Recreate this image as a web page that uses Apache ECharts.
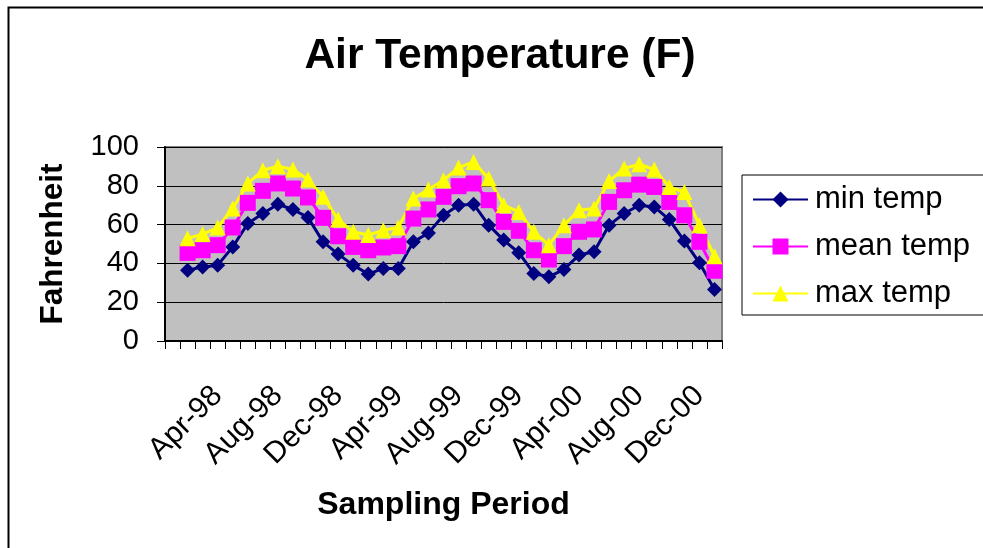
<!DOCTYPE html>
<html>
<head>
<meta charset="utf-8">
<script src="https://cdn.jsdelivr.net/npm/echarts@6/dist/echarts.min.js"></script>
<style>
html,body{margin:0;padding:0;background:#fff;}
#chart{width:983px;height:548px;}
</style>
</head>
<body>
<div id="chart"></div>
<script>
var categories = ["Jan-98","Feb-98","Mar-98","Apr-98","May-98","Jun-98","Jul-98","Aug-98","Sep-98","Oct-98","Nov-98","Dec-98",
"Jan-99","Feb-99","Mar-99","Apr-99","May-99","Jun-99","Jul-99","Aug-99","Sep-99","Oct-99","Nov-99","Dec-99",
"Jan-00","Feb-00","Mar-00","Apr-00","May-00","Jun-00","Jul-00","Aug-00","Sep-00","Oct-00","Nov-00","Dec-00","Jan-01"];
var minTemp = [null, 36.5, 38.2, 39.1, 48.5, 60.6, 65.7, 70.5, 67.8, 63.7, 51.1, 44.8, 39.1, 34.5, 37.4, 37.4, 51.1, 55.7, 64.8, 70.0, 70.5, 59.7, 52.0, 45.5, 34.8, 33.1, 36.9, 44.3, 46.0, 59.7, 65.7, 70.0, 69.1, 62.6, 51.5, 40.3, 26.6];
var meanTemp = [null, 45.4, 46.8, 49.4, 58.5, 71.2, 77.4, 81.2, 78.6, 74.0, 63.5, 54.0, 48.5, 46.8, 48.2, 48.9, 63.1, 67.8, 74.3, 79.8, 81.2, 72.6, 61.4, 56.8, 46.8, 42.0, 48.9, 56.3, 57.5, 71.7, 77.7, 80.6, 79.4, 71.7, 64.8, 51.1, 36.2];
var maxTemp = [null, 52.9, 55.1, 58.5, 68.3, 81.2, 88.0, 90.1, 88.4, 83.2, 74.3, 62.6, 56.3, 54.6, 57.1, 58.5, 73.4, 78.1, 82.9, 89.4, 92.3, 83.7, 70.0, 66.5, 56.3, 49.4, 59.7, 67.4, 68.3, 82.5, 88.9, 91.1, 88.4, 79.4, 76.8, 59.7, 43.7];
var yTicks = [0, 20, 40, 60, 80, 100];

var FONT = '"Liberation Sans", Arial, sans-serif';
var chart = echarts.init(document.getElementById('chart'), null, {renderer: 'canvas'});
chart.setOption({
  animation: false,
  backgroundColor: '#ffffff',
  graphic: [{
    type: 'rect', left: 6, top: 5, z: -10,
    shape: {width: 1100, height: 700},
    style: {fill: 'none', stroke: '#000', lineWidth: 2}
  }],
  title: {
    text: 'Air Temperature (F)',
    left: 495, top: 30, textAlign: 'center',
    textStyle: {fontFamily: FONT, fontSize: 42.5, fontWeight: 'bold', color: '#000'}
  },
  legend: {
    orient: 'vertical',
    left: 742, top: 175,
    padding: [9, 120, 6, 10],
    itemWidth: 55, itemHeight: 20, itemGap: 16,
    borderColor: '#000', borderWidth: 1,
    backgroundColor: '#fff',
    textStyle: {fontFamily: FONT, fontSize: 31, color: '#000', lineHeight: 30, padding: [0,0,0,2]},
    data: ['min temp', 'mean temp', 'max temp']
  },
  grid: {
    left: 165, top: 147, width: 557, height: 194,
    show: true, backgroundColor: '#C0C0C0', borderColor: '#808080', borderWidth: 2
  },
  xAxis: {
    type: 'category',
    data: categories,
    boundaryGap: true,
    name: 'Sampling Period',
    nameLocation: 'middle',
    nameGap: 148,
    nameTextStyle: {fontFamily: FONT, fontSize: 32, fontWeight: 'bold', color: '#000'},
    axisLine: {lineStyle: {color: '#000', width: 2}},
    axisTick: {show: true, interval: 0, length: 8, lineStyle: {color: '#000', width: 1}},
    axisLabel: {
      interval: function (idx) { return idx % 4 === 3; },
      rotate: 45, margin: 50,
      fontFamily: FONT, fontSize: 30, color: '#000'
    },
    splitLine: {show: false}
  },
  yAxis: {
    type: 'value',
    min: yTicks[0], max: yTicks[yTicks.length - 1], interval: 20,
    name: 'Fahrenheit',
    nameLocation: 'middle',
    nameRotate: 90,
    nameGap: 96,
    nameTextStyle: {fontFamily: FONT, fontSize: 31.5, fontWeight: 'bold', color: '#000'},
    axisLine: {show: true, lineStyle: {color: '#000', width: 2}},
    axisTick: {show: true, length: 8, lineStyle: {color: '#000', width: 1}},
    axisLabel: {margin: 26, fontFamily: FONT, fontSize: 29, color: '#000'},
    splitLine: {show: true, lineStyle: {color: '#000', width: 1}}
  },
  series: [
    {
      name: 'min temp', type: 'line', data: minTemp,
      symbol: 'diamond', symbolSize: 15, showAllSymbol: true,
      lineStyle: {color: '#000080', width: 3},
      itemStyle: {color: '#000080'}
    },
    {
      name: 'mean temp', type: 'line', data: meanTemp,
      symbol: 'rect', symbolSize: 16, showAllSymbol: true,
      lineStyle: {color: '#FF00FF', width: 3},
      itemStyle: {color: '#FF00FF'}
    },
    {
      name: 'max temp', type: 'line', data: maxTemp,
      symbol: 'triangle', symbolSize: 16, showAllSymbol: true,
      lineStyle: {color: '#FFFF00', width: 3},
      itemStyle: {color: '#FFFF00'}
    }
  ]
});
</script>
</body>
</html>
